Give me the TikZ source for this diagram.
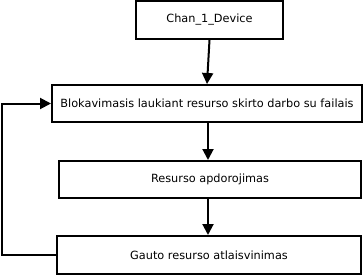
\documentclass[tikz,border=0pt]{standalone}
\usepackage{fontspec}
\setmainfont{DejaVu Sans}
\usetikzlibrary{arrows.meta}

\tikzset{
  stepbox/.style={draw, line width=2pt, inner sep=0pt, font=\fontsize{11.3}{13}\selectfont},
  flow/.style={line width=2pt, -{Triangle[length=11pt,width=11pt]}}
}

\begin{document}
\begin{tikzpicture}[x=1pt,y=-1pt]
        \useasboundingbox (0,0) rectangle (364,276);
        % Boxes
        \node[stepbox, minimum width=147pt, minimum height=38pt] (dev) at (209.5,20) {Chan\_1\_Device};
        \node[stepbox, minimum width=310pt, minimum height=37pt] (block) at (207,103.5) {Blokavimasis laukiant resurso skirto darbo su failais};
        \node[stepbox, minimum width=302pt, minimum height=37pt] (proc) at (210,179.5) {Resurso apdorojimas};
        \node[stepbox, minimum width=304pt, minimum height=38pt] (release) at (209,255) {Gauto resurso atlaisvinimas};
        % Arrows between boxes
        \draw[flow] (dev.south) -- (block.north);
        \draw[flow] (block.south -| 208,0) -- (proc.north -| 208,0);
        \draw[flow] (proc.south -| 208,0) -- (release.north -| 208,0);
        % back to the waiting step
        \draw[flow] (release.west) -- ++(-54,0) |- (block.west);
\end{tikzpicture}
\end{document}
